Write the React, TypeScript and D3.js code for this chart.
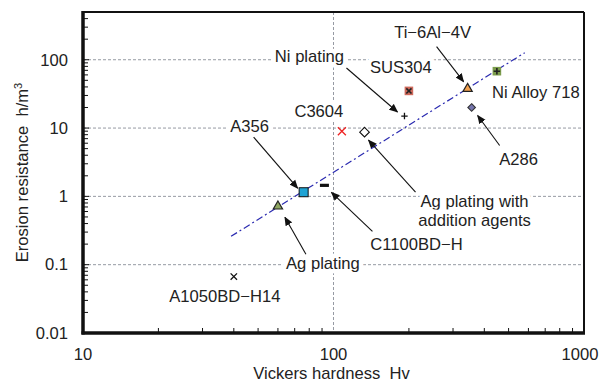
import * as d3 from 'd3'

// values
const materials = [
  'A1050BD-H14',
  'Ag plating',
  'A356',
  'C1100BD-H',
  'C3604',
  'Ag plating with addition agents',
  'Ni plating',
  'SUS304',
  'Ti-6Al-4V',
  'A286',
  'Ni Alloy 718',
]
const hardness = [40, 60, 76, 92, 108, 133, 192, 200, 343, 356, 449]
const resistance = [0.067, 0.74, 1.15, 1.45, 9.0, 8.7, 15, 35, 39, 20, 68]

const trendHardness = [39, 580]
const trendResistance = [0.26, 127]

const xTickValues = [10, 100, 1000]
const yTickValues = [0.01, 0.1, 1, 10, 100]
const yTickLabels = ['0.01', '0.1', '1', '10', '100']

type Shape = 'times' | 'triangle' | 'square' | 'dash' | 'diamond' | 'plus' | 'squareTimes' | 'squarePlus'

// look of each marker and where its label sits (pixels, relative to the marker)
const markerStyle: Record<string, { shape: Shape; fill: string; stroke: string; size: number }> = {
  'A1050BD-H14': { shape: 'times', fill: 'none', stroke: '#111', size: 3.2 },
  'Ag plating': { shape: 'triangle', fill: '#8ea660', stroke: '#222', size: 4.1 },
  A356: { shape: 'square', fill: '#1fa3d4', stroke: '#111', size: 4.5 },
  'C1100BD-H': { shape: 'dash', fill: '#111', stroke: 'none', size: 4.5 },
  C3604: { shape: 'times', fill: 'none', stroke: '#ee2222', size: 4 },
  'Ag plating with addition agents': { shape: 'diamond', fill: '#fff', stroke: '#111', size: 4.8 },
  'Ni plating': { shape: 'plus', fill: 'none', stroke: '#111', size: 3.2 },
  SUS304: { shape: 'squareTimes', fill: '#cf6a5c', stroke: '#222', size: 4.3 },
  'Ti-6Al-4V': { shape: 'triangle', fill: '#f2a04e', stroke: '#222', size: 4.1 },
  A286: { shape: 'diamond', fill: '#7575ad', stroke: '#333', size: 3.8 },
  'Ni Alloy 718': { shape: 'squarePlus', fill: '#7b9c4c', stroke: '#222', size: 4.3 },
}

const labelLayout: Record<string, { lines: string[]; dx: number; dy: number; arrow?: [number, number, number, number] }> = {
  'A1050BD-H14': { lines: ['A1050BD−H14'], dx: -9, dy: 20 },
  'Ag plating': { lines: ['Ag plating'], dx: 45, dy: 58, arrow: [28, 49, 7, 12] },
  A356: { lines: ['A356'], dx: -54, dy: -66, arrow: [-50, -55, -6, -4] },
  'C1100BD-H': { lines: ['C1100BD−H'], dx: 92, dy: 59, arrow: [48, 46, 7, 7] },
  C3604: { lines: ['C3604'], dx: -23, dy: -20 },
  'Ag plating with addition agents': {
    lines: ['Ag plating with', 'addition agents'],
    dx: 110,
    dy: 69,
    arrow: [51, 60, 4, 8],
  },
  'Ni plating': { lines: ['Ni plating'], dx: -95, dy: -60, arrow: [-58, -48, -7, -4] },
  SUS304: { lines: ['SUS304'], dx: -8, dy: -24 },
  'Ti-6Al-4V': { lines: ['Ti−6Al−4V'], dx: -35, dy: -55, arrow: [-31, -41, -4, -6] },
  A286: { lines: ['A286'], dx: 47, dy: 52, arrow: [28, 38, 6, 8] },
  'Ni Alloy 718': { lines: ['Ni Alloy 718'], dx: 39, dy: 21 },
}

const font = '"Liberation Sans", Arial, sans-serif'
const ink = '#222'
const textSize = 16.6

function Marker({ shape, fill, stroke, size }: { shape: Shape; fill: string; stroke: string; size: number }) {
  const s = size
  if (shape === 'times') {
    return <path d={`M${-s},${-s}L${s},${s}M${-s},${s}L${s},${-s}`} stroke={stroke} strokeWidth="1.3" fill="none" />
  }
  if (shape === 'plus') {
    return <path d={`M${-s},0H${s}M0,${-s}V${s}`} stroke={stroke} strokeWidth="1.3" fill="none" />
  }
  if (shape === 'dash') {
    return <rect x={-s} y={-1.6} width={2 * s} height={3.2} fill={fill} />
  }
  if (shape === 'triangle') {
    const path = d3.symbol().type(d3.symbolTriangle).size(s * s * 2.2)()
    return <path d={path ?? ''} transform="translate(0,1)" fill={fill} stroke={stroke} strokeWidth="1.2" />
  }
  if (shape === 'diamond') {
    return <path d={`M0,${-s}L${s},0L0,${s}L${-s},0Z`} fill={fill} stroke={stroke} strokeWidth="1.1" />
  }
  const inner =
    shape === 'squareTimes'
      ? `M${-s * 0.6},${-s * 0.6}L${s * 0.6},${s * 0.6}M${-s * 0.6},${s * 0.6}L${s * 0.6},${-s * 0.6}`
      : shape === 'squarePlus'
        ? `M${-s * 0.75},0H${s * 0.75}M0,${-s * 0.75}V${s * 0.75}`
        : ''
  return (
    <g>
      <rect x={-s} y={-s} width={2 * s} height={2 * s} fill={fill} stroke={shape === 'square' ? stroke : 'none'} strokeWidth="1" />
      {inner && <path d={inner} stroke={stroke} strokeWidth="1.6" fill="none" />}
    </g>
  )
}

export default function App() {
  const width = 604
  const height = 385
  const plot = { left: 83, right: 584, top: 12, bottom: 333 }

  const x = d3.scaleLog().domain([10, 1000]).range([plot.left, plot.right])
  const y = d3.scaleLog().domain([0.01, 500]).range([plot.bottom, plot.top])

  const minorX: number[] = []
  for (const base of [10, 100]) for (let k = 2; k <= 9; k++) minorX.push(base * k)
  const minorY: number[] = []
  for (const base of [0.01, 0.1, 1, 10, 100]) {
    for (let k = 2; k <= 9; k++) if (base * k <= 500) minorY.push(base * k)
  }

  const trend = d3
    .line<number>()
    .x((_, i) => x(trendHardness[i]))
    .y((_, i) => y(trendResistance[i]))(trendHardness) ?? ''

  const points = materials.map((name, i) => ({ name, px: x(hardness[i]), py: y(resistance[i]) }))

  return (
    <svg
      width={width}
      height={height}
      viewBox={`0 0 ${width} ${height}`}
      style={{ position: 'absolute', left: 0, top: 0, background: '#fff' }}
      fontFamily={font}
    >
      <defs>
        <marker id="arrow" viewBox="0 0 10 10" refX="9" refY="5" markerWidth="9" markerHeight="9" markerUnits="userSpaceOnUse" orient="auto">
          <path d="M0,0.8L10,5L0,9.2Z" fill="#111" />
        </marker>
      </defs>

      {/* grid */}
      {yTickValues.slice(1).map((t) => (
        <line key={t} x1={plot.left} x2={plot.right} y1={y(t)} y2={y(t)} stroke="#8a8f99" strokeWidth="0.9" strokeDasharray="3 2" />
      ))}
      <line x1={x(100)} x2={x(100)} y1={plot.top} y2={plot.bottom} stroke="#8a8f99" strokeWidth="0.9" strokeDasharray="3 2" />

      {/* minor + major ticks */}
      {minorX.map((t) => (
        <line key={t} x1={x(t)} x2={x(t)} y1={plot.bottom} y2={plot.bottom - 5} stroke="#111" strokeWidth="1" />
      ))}
      {minorY.map((t) => (
        <line key={t} x1={plot.left} x2={plot.left + 5} y1={y(t)} y2={y(t)} stroke="#111" strokeWidth="1" />
      ))}
      {yTickValues.map((t) => (
        <line key={t} x1={plot.left} x2={plot.left + 6} y1={y(t)} y2={y(t)} stroke="#111" strokeWidth="1" />
      ))}

      {/* trend line */}
      <path d={trend} fill="none" stroke="#2a2ab0" strokeWidth="1.2" strokeDasharray="7 3 2 3" />

      {/* labels with white halo that cuts the grid */}
      {points.map((p) => {
        const l = labelLayout[p.name]
        return (
          <text
            key={p.name}
            x={p.px + l.dx}
            y={p.py + l.dy}
            textAnchor="middle"
            fontSize={textSize}
            fill={ink}
            stroke="#fff"
            strokeWidth="9"
            strokeLinejoin="round"
            paintOrder="stroke"
          >
            {l.lines.map((line, i) => (
              <tspan key={line} x={p.px + l.dx} dy={i === 0 ? '0.35em' : '1.12em'}>
                {line}
              </tspan>
            ))}
          </text>
        )
      })}

      {/* arrows */}
      {points.map((p) => {
        const a = labelLayout[p.name].arrow
        if (!a) return null
        return (
          <line
            key={p.name}
            x1={p.px + a[0]}
            y1={p.py + a[1]}
            x2={p.px + a[2]}
            y2={p.py + a[3]}
            stroke="#111"
            strokeWidth="1.1"
            markerEnd="url(#arrow)"
          />
        )
      })}

      {/* markers */}
      {points.map((p) => (
        <g key={p.name} transform={`translate(${p.px},${p.py})`}>
          <Marker {...markerStyle[p.name]} />
        </g>
      ))}

      {/* frame */}
      <line x1={plot.left} x2={plot.right} y1={plot.top} y2={plot.top} stroke="#111" strokeWidth="2" />
      <line x1={plot.right} x2={plot.right} y1={plot.top} y2={plot.bottom} stroke="#111" strokeWidth="2" />
      <line x1={plot.left} x2={plot.left} y1={plot.top - 1} y2={plot.bottom + 1.5} stroke="#111" strokeWidth="3.5" />
      <line x1={plot.left - 1.5} x2={plot.right + 1} y1={plot.bottom} y2={plot.bottom} stroke="#111" strokeWidth="3.5" />

      {/* tick labels */}
      {yTickValues.map((t, i) => (
        <text key={t} x={plot.left - 15} y={y(t)} dy="0.35em" textAnchor="end" fontSize={textSize} fill={ink}>
          {yTickLabels[i]}
        </text>
      ))}
      {xTickValues.map((t) => (
        <text key={t} x={t === 1000 ? x(t) - 4 : x(t)} y={plot.bottom + 21} dy="0.35em" textAnchor="middle" fontSize={textSize} fill={ink}>
          {t}
        </text>
      ))}

      {/* axis titles */}
      <text x={(plot.left + plot.right) / 2 - 2} y={373} dy="0.35em" textAnchor="middle" fontSize={textSize} fill={ink} style={{ whiteSpace: 'pre' }}>
        {'Vickers hardness  Hv'}
      </text>
      <text
        transform={`translate(22,${(plot.top + plot.bottom) / 2}) rotate(-90)`}
        dy="0.35em"
        textAnchor="middle"
        fontSize={textSize}
        fill={ink}
        style={{ whiteSpace: 'pre' }}
      >
        {'Erosion resistance  h/m'}
        <tspan dy="-0.5em" fontSize="11">
          3
        </tspan>
      </text>
    </svg>
  )
}
